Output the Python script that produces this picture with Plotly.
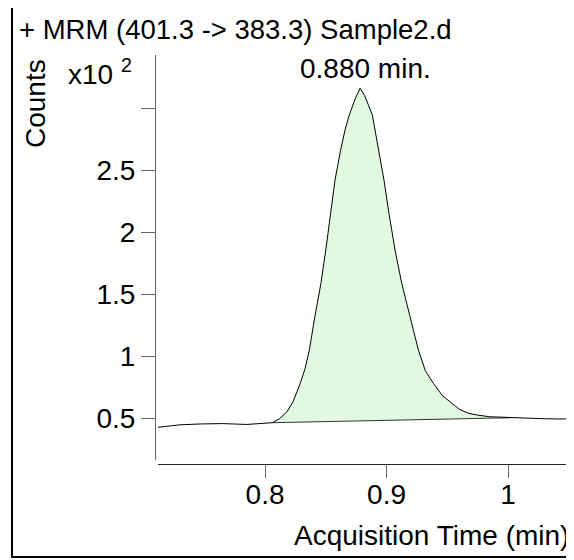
import plotly.graph_objects as go

# Chromatogram (acquisition time in min, counts)
time_min = [0.712, 0.730, 0.747, 0.765, 0.785, 0.798, 0.806, 0.812, 0.818, 0.823,
            0.829, 0.833, 0.8365, 0.841, 0.846, 0.850, 0.854, 0.8576, 0.862, 0.866,
            0.8694, 0.874, 0.8782, 0.882, 0.8883, 0.893, 0.8979, 0.902, 0.907, 0.9125,
            0.9193, 0.9262, 0.932, 0.9385, 0.946, 0.9537, 0.960, 0.9673, 0.975, 0.985,
            1.0016, 1.015, 1.030, 1.045, 1.054]
counts = [42.5, 44.5, 45.2, 45.5, 44.8, 45.3, 46.2, 49.5, 55.0, 63.0,
          78.0, 90.0, 105.0, 131.7, 158.6, 185.5, 213.0, 241.9, 265.0, 283.0,
          294.4, 307.0, 315.9, 310.0, 294.4, 268.0, 241.9, 215.0, 185.5, 158.6,
          131.7, 104.8, 88.0, 78.0, 68.0, 61.9, 57.0, 53.8, 52.3, 51.0,
          50.2, 49.8, 49.4, 49.2, 49.8]

# integration baseline (start/end)
base_time = [0.806, 1.0016]
base_counts = [46.2, 50.2]

peak_time = 0.880
peak_label = "0.880 min."
scale = 100.0  # x10^2

y_ticks = [0.5, 1, 1.5, 2, 2.5]
y_ticktext = ["0.5", "1", "1.5", "2", "2.5"]
y_minor_ticks = [3]
x_ticks = [0.8, 0.9, 1.0]
x_ticktext = ["0.8", "0.9", "1"]

y = [c / scale for c in counts]
by = [c / scale for c in base_counts]

# polygon for the integrated peak area
poly_x = [t for t in time_min if base_time[0] <= t <= base_time[1]]
poly_y = [v for t, v in zip(time_min, y) if base_time[0] <= t <= base_time[1]]
poly_x = poly_x + [base_time[1], base_time[0]]
poly_y = poly_y + [by[1], by[0]]

FONT = "Liberation Sans, Arial, sans-serif"
FS = 28

fig = go.Figure()
fig.add_trace(go.Scatter(x=poly_x, y=poly_y, fill="toself", mode="none",
                         fillcolor="rgb(224,249,224)", hoverinfo="skip",
                         showlegend=False))
fig.add_trace(go.Scatter(x=base_time, y=by, mode="lines",
                         line=dict(color="#333333", width=1), showlegend=False))
fig.add_trace(go.Scatter(x=time_min, y=y, mode="lines",
                         line=dict(color="black", width=1), showlegend=False))

pk_y = max(y)
fig.add_annotation(x=peak_time, y=pk_y, xref="x", yref="y", text=peak_label,
                   showarrow=False, yanchor="bottom", yshift=2, xshift=3,
                   font=dict(family=FONT, size=FS, color="black"))

fig.update_layout(
    width=566, height=552,
    margin=dict(l=147, r=0, t=47, b=96, pad=0),
    paper_bgcolor="white", plot_bgcolor="white",
    font=dict(family=FONT, size=FS, color="black"),
    showlegend=False,
    xaxis=dict(domain=[3 / 419, 1], anchor="free", position=0,
               range=[0.7119, 1.0543], tickvals=x_ticks, ticktext=x_ticktext,
               showgrid=False, zeroline=False, showline=True,
               linecolor="#222222", linewidth=1,
               ticks="outside", ticklen=13, tickcolor="#666666", tickwidth=1,
               ticklabelstandoff=-8,
               tickfont=dict(family=FONT, size=FS)),
    yaxis=dict(domain=[4 / 409, 1], anchor="free", position=0,
               range=[0.1613, 3.4274], tickvals=y_ticks, ticktext=y_ticktext,
               showgrid=False, zeroline=False, showline=True,
               linecolor="#666666", linewidth=1,
               ticks="outside", ticklen=14, tickcolor="#666666", tickwidth=1,
               minor=dict(tickmode="array", tickvals=y_minor_ticks, ticks="outside",
                          ticklen=14, tickcolor="#666666", tickwidth=1, showgrid=False),
               tickfont=dict(family=FONT, size=FS)),
)

# title, axis labels
fig.add_annotation(xref="paper", yref="paper", x=-0.330, y=1.062,
                   xanchor="left", yanchor="middle", showarrow=False,
                   text="+ MRM (401.3 -> 383.3) Sample2.d",
                   font=dict(family=FONT, size=27.5))
fig.add_annotation(xref="paper", yref="paper", x=0.994, y=-0.1736,
                   xanchor="right", yanchor="middle", showarrow=False,
                   text="Acquisition Time (min)",
                   font=dict(family=FONT, size=FS))
fig.add_annotation(xref="paper", yref="paper", x=-0.2864, y=(464 - 103) / 409,
                   xanchor="center", yanchor="middle", showarrow=False,
                   textangle=-90, text="Counts",
                   font=dict(family=FONT, size=FS))
fig.add_annotation(xref="paper", yref="paper", x=(66 - 155) / 419, y=(464 - 72) / 409,
                   xanchor="left", yanchor="middle", showarrow=False,
                   text="x10 <sup>2</sup>",
                   font=dict(family=FONT, size=FS))

# outer frame
fig.add_shape(type="rect", xref="paper", yref="paper",
              x0=(12 - 155) / 419, x1=1.05, y0=(464 - 557) / 409, y1=(464 - 6) / 409,
              line=dict(color="black", width=2), fillcolor="rgba(0,0,0,0)",
              layer="above")

fig.write_html("out.html")
